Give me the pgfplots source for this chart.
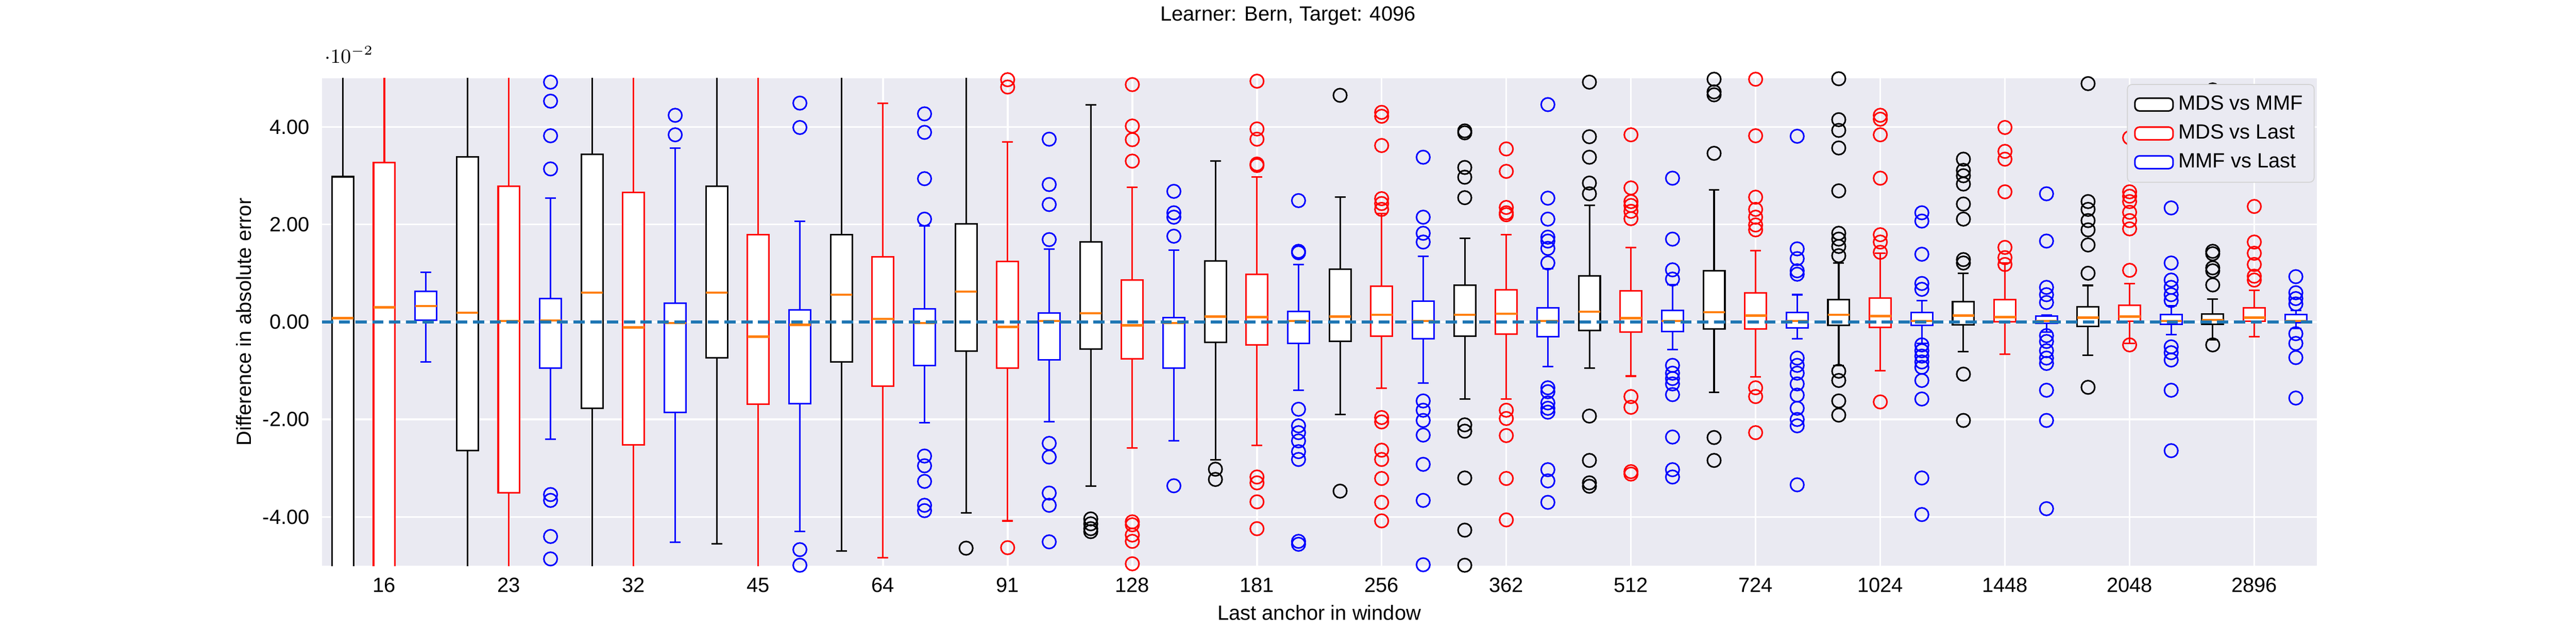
\documentclass[border=0pt]{standalone}
\usepackage{pgfplots}
\pgfplotsset{compat=1.18}
\usepgfplotslibrary{statistics}
\usepackage{fontspec}
\setmainfont{Liberation Sans}
\definecolor{bg}{HTML}{EAEAF2}
\definecolor{med}{HTML}{FF7F0E}
\definecolor{zl}{HTML}{1F77B4}
\newcommand\B[8]{\addplot[#2, forget plot, line width=0.7pt, mark=o, mark size=3pt, mark options={solid,line width=0.7pt}, boxplot prepared={draw position=#1, lower whisker=#3, lower quartile=#4, median=#5, upper quartile=#6, upper whisker=#7}] table[row sep=\\,y index=0]{y\\ #8};}
\newcommand\Bn[7]{\addplot[#2, forget plot, line width=0.7pt, boxplot prepared={draw position=#1, lower whisker=#3, lower quartile=#4, median=#5, upper quartile=#6, upper whisker=#7}] coordinates {};}
\begin{document}
\begin{tikzpicture}
\path[use as bounding box] (-144pt,-35pt) rectangle (1008pt,253pt);
\begin{axis}[
  at={(0,0)}, anchor=south west,
  width=892pt, height=218pt, scale only axis,
  axis background/.style={fill=bg}, axis line style={draw=none},
  xmin=0.5, xmax=48.5, ymin=-0.05, ymax=0.05,
  xtick={2,5,...,47},
  xticklabels={16,23,32,45,64,91,128,181,256,362,512,724,1024,1448,2048,2896},
  ytick={-0.04,-0.02,0,0.02,0.04},
  yticklabel style={/pgf/number format/fixed, /pgf/number format/fixed zerofill, /pgf/number format/precision=2, xshift=-2pt},
  /pgf/number format/assume math mode=true,
  tick style={draw=none},
  grid=major, major grid style={white, line width=0.8pt},
  tick label style={font=\fontsize{9.2}{11}\selectfont},
  label style={font=\fontsize{9.2}{11}\selectfont},
  xlabel={Last anchor in window}, ylabel={Difference in absolute error},
  xlabel style={at={(axis description cs:0.5,0)}, anchor=north, yshift=-14pt},
  ylabel style={at={(axis description cs:0,0.5)}, anchor=south, yshift=28pt},
  xticklabel style={yshift=-2pt},
  boxplot/draw direction=y, boxplot/box extend=0.52, boxplot/whisker extend=0.26,
  boxplot/every box/.style={fill=white},
  boxplot/every median/.style={draw=med, line width=1pt},
  clip=true,
  legend style={at={(axis cs:48.45,0.0488)}, anchor=north east, fill=bg, draw=lightgray!70, rounded corners=2pt, font=\fontsize{9.2}{11}\selectfont, row sep=1pt, inner sep=3pt},
  legend cell align=left,
]
\Bn{1}{black}{-0.1}{-0.055}{0.0008}{0.0298}{0.1}
\Bn{2}{red}{-0.1}{-0.055}{0.003}{0.0327}{0.1}
\Bn{3}{blue}{-0.0082}{0.0004}{0.0033}{0.0063}{0.0102}
\Bn{4}{black}{-0.1}{-0.0264}{0.0019}{0.0339}{0.1}
\Bn{5}{red}{-0.1}{-0.035}{0.0002}{0.0278}{0.1}
\B{6}{blue}{-0.024}{-0.0095}{0.0003}{0.0048}{0.0254}{0.0492\\0.0453\\0.0382\\0.0314\\-0.0354\\-0.0366\\-0.044\\-0.0486\\}
\Bn{7}{black}{-0.1}{-0.0177}{0.006}{0.0344}{0.1}
\Bn{8}{red}{-0.1}{-0.0252}{-0.0011}{0.0266}{0.1}
\B{9}{blue}{-0.0452}{-0.0186}{-0.0002}{0.0039}{0.0357}{0.0424\\0.0384\\}
\Bn{10}{black}{-0.0455}{-0.0073}{0.006}{0.0278}{0.1}
\Bn{11}{red}{-0.1}{-0.0169}{-0.003}{0.0179}{0.1}
\B{12}{blue}{-0.043}{-0.0168}{-0.0006}{0.0025}{0.0207}{0.0449\\0.0399\\-0.0467\\-0.0499\\}
\Bn{13}{black}{-0.047}{-0.0082}{0.0056}{0.0179}{0.1}
\Bn{14}{red}{-0.0484}{-0.0132}{0.0006}{0.0134}{0.0449}
\B{15}{blue}{-0.0207}{-0.0089}{-0.0002}{0.0027}{0.0197}{0.0427\\0.0389\\0.0294\\0.0211\\-0.0275\\-0.0295\\-0.0327\\-0.0376\\-0.0387\\}
\B{16}{black}{-0.0392}{-0.006}{0.0062}{0.0201}{0.1}{-0.0464\\}
\B{17}{red}{-0.0408}{-0.0095}{-0.001}{0.0124}{0.0369}{0.0497\\0.0482\\-0.0463\\}
\B{18}{blue}{-0.0205}{-0.0078}{0.0002}{0.0018}{0.015}{0.0375\\0.0282\\0.0241\\0.0169\\-0.0249\\-0.0277\\-0.0351\\-0.0376\\-0.0451\\}
\B{19}{black}{-0.0337}{-0.0056}{0.0018}{0.0164}{0.0445}{0.0502\\-0.0404\\-0.0414\\-0.0424\\-0.043\\}
\B{20}{red}{-0.0258}{-0.0076}{-0.0007}{0.0086}{0.0276}{0.0487\\0.0402\\0.0374\\0.033\\-0.041\\-0.0416\\-0.0437\\-0.045\\-0.0496\\}
\B{21}{blue}{-0.0244}{-0.0095}{-0.0002}{0.0009}{0.0147}{0.0268\\0.0224\\0.0215\\0.0176\\-0.0336\\}
\B{22}{black}{-0.0283}{-0.0042}{0.0011}{0.0125}{0.033}{-0.0302\\-0.0323\\}
\B{23}{red}{-0.0253}{-0.0047}{0.001}{0.0098}{0.0297}{0.0494\\0.0396\\0.0375\\0.0324\\0.0321\\-0.0318\\-0.033\\-0.0369\\-0.0424\\}
\B{24}{blue}{-0.014}{-0.0044}{0.0002}{0.0022}{0.0118}{0.0249\\0.0145\\0.0142\\-0.0179\\-0.0213\\-0.0227\\-0.0244\\-0.0266\\-0.0282\\-0.045\\-0.0456\\}
\B{25}{black}{-0.019}{-0.004}{0.0011}{0.0108}{0.0256}{0.0465\\-0.0347\\}
\B{26}{red}{-0.0136}{-0.0029}{0.0015}{0.0073}{0.0222}{0.043\\0.0422\\0.0362\\0.0253\\0.0243\\0.0231\\-0.0196\\-0.0205\\-0.0263\\-0.0282\\-0.0321\\-0.037\\-0.0408\\}
\B{27}{blue}{-0.0125}{-0.0034}{0.0002}{0.0043}{0.0135}{0.0338\\0.0215\\0.0182\\0.0164\\-0.0162\\-0.0181\\-0.0202\\-0.0232\\-0.0292\\-0.0366\\-0.0498\\}
\B{28}{black}{-0.0158}{-0.0029}{0.0015}{0.0076}{0.0172}{0.0392\\0.0388\\0.0317\\0.0297\\0.0255\\-0.0211\\-0.0224\\-0.032\\-0.0427\\-0.0499\\}
\B{29}{red}{-0.0158}{-0.0025}{0.0017}{0.0066}{0.0179}{0.0355\\0.0309\\0.0235\\0.0224\\0.022\\-0.0181\\-0.0198\\-0.0233\\-0.0321\\-0.0406\\}
\B{30}{blue}{-0.0091}{-0.003}{0.0002}{0.0029}{0.0109}{0.0446\\0.0254\\0.0211\\0.0174\\0.0166\\0.0151\\0.0121\\-0.0135\\-0.0143\\-0.0166\\-0.0177\\-0.0185\\-0.0303\\-0.0326\\-0.037\\}
\B{31}{black}{-0.0095}{-0.0017}{0.0021}{0.0095}{0.0239}{0.0492\\0.038\\0.0338\\0.0285\\0.0263\\-0.0193\\-0.0284\\-0.033\\-0.0337\\}
\B{32}{red}{-0.0111}{-0.0021}{0.0008}{0.0064}{0.0153}{0.0384\\0.0275\\0.0247\\0.0239\\0.0227\\0.0212\\-0.0153\\-0.0175\\-0.0307\\-0.0312\\}
\B{33}{blue}{-0.0057}{-0.002}{0.0002}{0.0024}{0.0077}{0.0295\\0.017\\0.0107\\0.0088\\-0.0089\\-0.0105\\-0.0116\\-0.0127\\-0.0149\\-0.0236\\-0.0303\\-0.0318\\}
\B{34}{black}{-0.0144}{-0.0014}{0.002}{0.0105}{0.0271}{0.0498\\0.0472\\0.0466\\0.0346\\-0.0237\\-0.0284\\}
\B{35}{red}{-0.0113}{-0.0014}{0.0013}{0.006}{0.0146}{0.0498\\0.0382\\0.0256\\0.0231\\0.0215\\0.0199\\0.0189\\-0.0135\\-0.0153\\-0.0227\\}
\B{36}{blue}{-0.0034}{-0.0012}{0.0002}{0.002}{0.0056}{0.0381\\0.015\\0.013\\0.0105\\0.0098\\-0.0074\\-0.0089\\-0.0105\\-0.0127\\-0.015\\-0.0177\\-0.02\\-0.0213\\-0.0334\\}
\B{37}{black}{-0.0089}{-0.0007}{0.0015}{0.0046}{0.0121}{0.0499\\0.0415\\0.0393\\0.0357\\0.0269\\0.0182\\0.017\\0.0155\\0.0136\\-0.0101\\-0.012\\-0.0162\\-0.0191\\}
\B{38}{red}{-0.01}{-0.0011}{0.0012}{0.0049}{0.0141}{0.0424\\0.0416\\0.0384\\0.0295\\0.0179\\0.0164\\0.0143\\-0.0164\\}
\B{39}{blue}{-0.0044}{-0.0007}{0.0002}{0.002}{0.0044}{0.0224\\0.0207\\0.0139\\0.0079\\0.0067\\-0.0047\\-0.0059\\-0.007\\-0.0082\\-0.0093\\-0.012\\-0.0158\\-0.032\\-0.0395\\}
\B{40}{black}{-0.0061}{-0.0006}{0.0013}{0.0042}{0.01}{0.0334\\0.0311\\0.03\\0.0283\\0.0242\\0.0211\\0.0128\\0.0121\\-0.0107\\-0.0202\\}
\B{41}{red}{-0.0066}{0.0001}{0.001}{0.0046}{0.0121}{0.0399\\0.035\\0.0334\\0.0267\\0.0153\\0.0132\\0.0118\\}
\B{42}{blue}{-0.0021}{-0.0003}{0.0002}{0.0012}{0.0014}{0.0263\\0.0166\\0.0071\\0.0056\\0.004\\-0.0028\\-0.004\\-0.0059\\-0.0074\\-0.0085\\-0.014\\-0.0202\\-0.0383\\}
\B{43}{black}{-0.0068}{-0.0009}{0.0009}{0.0031}{0.0075}{0.0489\\0.0247\\0.0231\\0.0208\\0.0189\\0.0158\\0.01\\-0.0134\\}
\B{44}{red}{-0.0044}{0.0002}{0.0011}{0.0034}{0.0079}{0.0378\\0.0267\\0.0258\\0.0247\\0.0225\\0.0208\\0.0191\\0.0106\\-0.0047\\}
\B{45}{blue}{-0.0026}{-0.0005}{0.0002}{0.0015}{0.0033}{0.0234\\0.0121\\0.0086\\0.0071\\0.0056\\0.0044\\-0.0051\\-0.0063\\-0.0078\\-0.014\\-0.0264\\}
\B{46}{black}{-0.0036}{-0.0005}{0.0004}{0.0016}{0.0047}{0.0476\\0.0395\\0.0145\\0.014\\0.0111\\0.0105\\0.0076\\-0.0047\\}
\B{47}{red}{-0.003}{0.0002}{0.0009}{0.0029}{0.0065}{0.0407\\0.038\\0.0237\\0.0164\\0.0141\\0.0118\\0.0094\\0.0086\\}
\B{48}{blue}{-0.0013}{-0.0002}{0.0002}{0.0015}{0.0024}{0.0416\\0.0093\\0.006\\0.0048\\0.0037\\-0.0024\\-0.0044\\-0.0073\\-0.0156\\}
\addplot[zl, line width=1.3pt, dash pattern=on 5pt off 2.5pt, forget plot] coordinates {(0.5,0) (48.5,0)};
\addlegendimage{area legend, draw=black, fill=white, line width=0.7pt}
\addlegendentry{MDS vs MMF}
\addlegendimage{area legend, draw=red, fill=white, line width=0.7pt}
\addlegendentry{MDS vs Last}
\addlegendimage{area legend, draw=blue, fill=white, line width=0.7pt}
\addlegendentry{MMF vs Last}
\end{axis}
\node[font=\fontsize{9.2}{11}\selectfont] at (432pt,246pt) {Learner: Bern, Target: 4096};
\end{tikzpicture}
\end{document}
